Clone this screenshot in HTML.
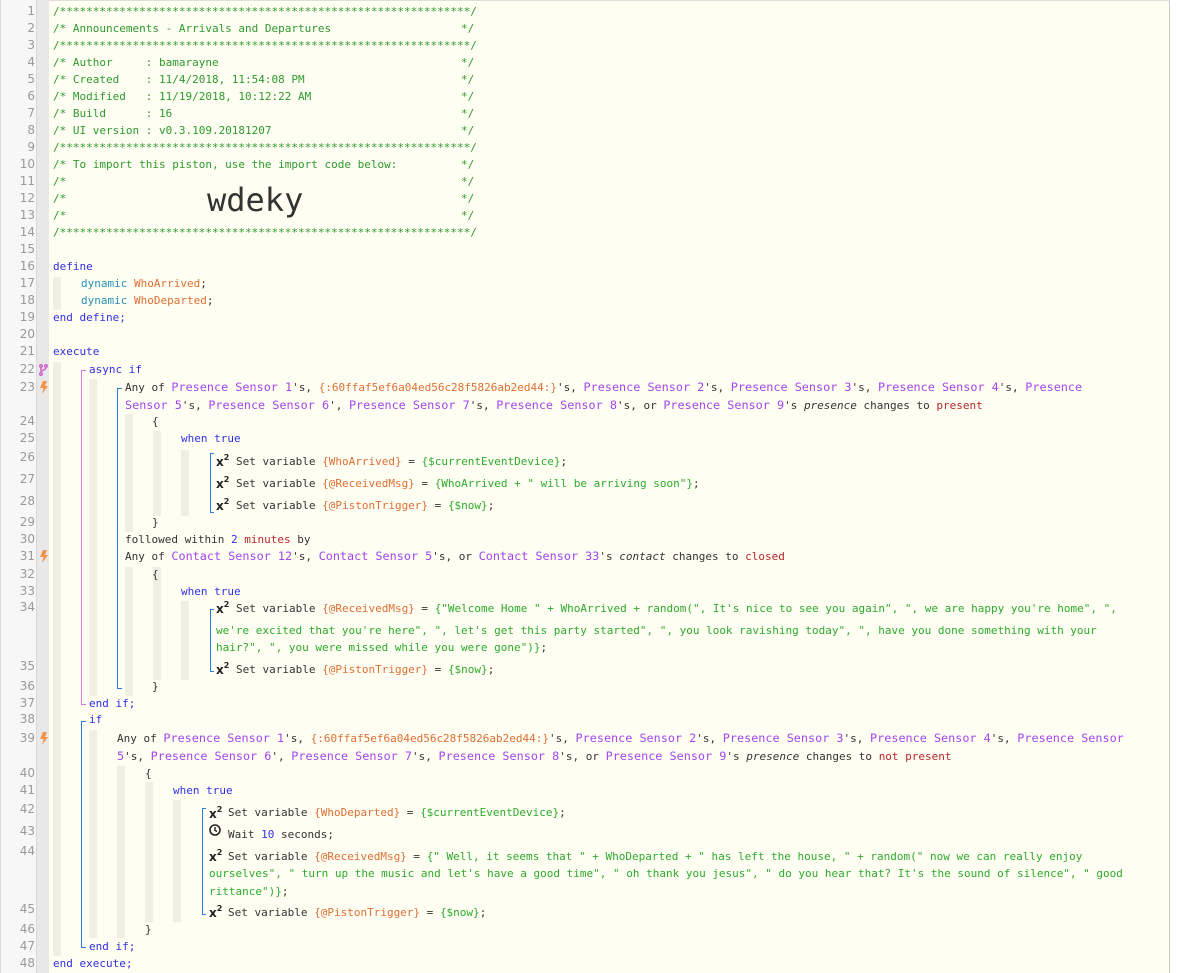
<!DOCTYPE html>
<html><head><meta charset="utf-8">
<style>
*{margin:0;padding:0;box-sizing:border-box}
body{width:1178px;height:973px;background:#fff;position:relative;overflow:hidden;font-family:"DejaVu Sans Mono","Liberation Mono",monospace;font-size:11px;color:#333}
#g1{position:absolute;left:0;top:0;width:36px;height:973px;background:#f7f7f7;border-left:1px solid #ddd}
#g2{position:absolute;left:36px;top:0;width:13px;height:973px;background:#e8e8e8;border-left:1px solid #d8d8d8}
#code{position:absolute;left:49px;top:0;width:1121px;height:973px;background:#fffef2;border-right:1px solid #c8c8c8;border-top:1px solid #ddd}
.l{position:absolute;white-space:pre;line-height:17px;height:17px}
.n{position:absolute;left:0;width:35px;text-align:right;color:#999;font-size:12px;line-height:17px;font-family:"DejaVu Sans","Liberation Sans",sans-serif}
.c{color:#2e9a2e}.k{color:#2f2fe8}.t{color:#2a90b8}.d{color:#a346f0;font-size:11.8px}.v{color:#dd6f35}.s{color:#2eaa2e}.r{color:#b8262b}.nb{color:#2f2fe8}
.bar{position:absolute;width:8px;background:#f1efe4}
.vl{position:absolute;width:1px}
.hl{position:absolute;height:1px}
.x2{position:absolute;font-family:"DejaVu Sans","Liberation Sans",sans-serif;font-weight:bold;font-size:12px;color:#222;line-height:12px}
.x2 sup{font-size:8px;position:relative;top:-1px}
</style></head><body>
<div id="g1"></div><div id="g2"></div><div id="code"></div>

<div class="bar" style="left:53px;top:277px;height:33px"></div>
<div class="bar" style="left:53px;top:362px;height:594px"></div>
<div class="bar" style="left:89px;top:379px;height:317px"></div>
<div class="bar" style="left:125px;top:414px;height:118px"></div>
<div class="bar" style="left:153px;top:431px;height:85px"></div>
<div class="bar" style="left:181px;top:450px;height:66px"></div>
<div class="bar" style="left:125px;top:567px;height:129px"></div>
<div class="bar" style="left:153px;top:567px;height:113px"></div>
<div class="bar" style="left:181px;top:601px;height:79px"></div>
<div class="bar" style="left:89px;top:730px;height:208px"></div>
<div class="bar" style="left:117px;top:766px;height:172px"></div>
<div class="bar" style="left:145px;top:782px;height:140px"></div>
<div class="bar" style="left:173px;top:800px;height:122px"></div>

<div class="vl" style="left:81px;top:370px;height:335px;background:#d77ad7"></div>
<div class="hl" style="left:81px;top:370px;width:5px;background:#d77ad7"></div>
<div class="hl" style="left:81px;top:704px;width:5px;background:#d77ad7"></div>
<div class="vl" style="left:117px;top:388px;height:301px;background:#2a7ad8"></div>
<div class="hl" style="left:117px;top:388px;width:5px;background:#2a7ad8"></div>
<div class="hl" style="left:117px;top:688px;width:5px;background:#2a7ad8"></div>
<div class="vl" style="left:210px;top:453px;height:60px;background:#2a7ad8"></div>
<div class="hl" style="left:210px;top:453px;width:4px;background:#2a7ad8"></div>
<div class="hl" style="left:210px;top:512px;width:4px;background:#2a7ad8"></div>
<div class="vl" style="left:210px;top:609px;height:63px;background:#2a7ad8"></div>
<div class="hl" style="left:210px;top:609px;width:4px;background:#2a7ad8"></div>
<div class="hl" style="left:210px;top:671px;width:4px;background:#2a7ad8"></div>
<div class="vl" style="left:81px;top:721px;height:227px;background:#2a7ad8"></div>
<div class="hl" style="left:81px;top:721px;width:5px;background:#2a7ad8"></div>
<div class="hl" style="left:81px;top:947px;width:5px;background:#2a7ad8"></div>
<div class="vl" style="left:202px;top:808px;height:107px;background:#2a7ad8"></div>
<div class="hl" style="left:202px;top:808px;width:4px;background:#2a7ad8"></div>
<div class="hl" style="left:202px;top:914px;width:4px;background:#2a7ad8"></div>

<svg style="position:absolute;left:39px;top:364px" width="9" height="12" viewBox="0 0 9 12"><g fill="none" stroke="#d06ad0" stroke-width="1.6"><circle cx="2" cy="2" r="1.3"/><circle cx="7" cy="2" r="1.3"/><circle cx="2" cy="10" r="1.3"/><path d="M2 3.5V8.5M7 3.5C7 6 2 6 2 8.5"/></g></svg>
<svg style="position:absolute;left:40px;top:381px" width="8" height="13" viewBox="0 0 8 13"><path d="M3 0H7L5 5H8L2 13L3.5 7H0Z" fill="#f5934a"/></svg>
<svg style="position:absolute;left:40px;top:550px" width="8" height="13" viewBox="0 0 8 13"><path d="M3 0H7L5 5H8L2 13L3.5 7H0Z" fill="#f5934a"/></svg>
<svg style="position:absolute;left:40px;top:732px" width="8" height="13" viewBox="0 0 8 13"><path d="M3 0H7L5 5H8L2 13L3.5 7H0Z" fill="#f5934a"/></svg>

<div class="n" style="top:3px">1</div><div class="n" style="top:20px">2</div><div class="n" style="top:37px">3</div><div class="n" style="top:54px">4</div><div class="n" style="top:71px">5</div><div class="n" style="top:88px">6</div><div class="n" style="top:105px">7</div><div class="n" style="top:122px">8</div><div class="n" style="top:139px">9</div><div class="n" style="top:156px">10</div><div class="n" style="top:173px">11</div><div class="n" style="top:190px">12</div><div class="n" style="top:207px">13</div><div class="n" style="top:224px">14</div><div class="n" style="top:241px">15</div><div class="n" style="top:258px">16</div><div class="n" style="top:275px">17</div><div class="n" style="top:292px">18</div><div class="n" style="top:309px">19</div><div class="n" style="top:326px">20</div><div class="n" style="top:343px">21</div><div class="n" style="top:361px">22</div><div class="n" style="top:379px">23</div><div class="n" style="top:413px">24</div><div class="n" style="top:430px">25</div><div class="n" style="top:449px">26</div><div class="n" style="top:471px">27</div><div class="n" style="top:493px">28</div><div class="n" style="top:514px">29</div><div class="n" style="top:531px">30</div><div class="n" style="top:548px">31</div><div class="n" style="top:566px">32</div><div class="n" style="top:583px">33</div><div class="n" style="top:599px">34</div><div class="n" style="top:658px">35</div><div class="n" style="top:678px">36</div><div class="n" style="top:695px">37</div><div class="n" style="top:711px">38</div><div class="n" style="top:730px">39</div><div class="n" style="top:765px">40</div><div class="n" style="top:782px">41</div><div class="n" style="top:801px">42</div><div class="n" style="top:823px">43</div><div class="n" style="top:843px">44</div><div class="n" style="top:901px">45</div><div class="n" style="top:921px">46</div><div class="n" style="top:938px">47</div><div class="n" style="top:955px">48</div>

<div class="l c" style="top:3px;left:53px">/**************************************************************/</div>
<div class="l c" style="top:20px;left:53px">/* Announcements - Arrivals and Departures</div>
<div class="l c" style="top:37px;left:53px">/**************************************************************/</div>
<div class="l c" style="top:54px;left:53px">/* Author     : bamarayne</div>
<div class="l c" style="top:71px;left:53px">/* Created    : 11/4/2018, 11:54:08 PM</div>
<div class="l c" style="top:88px;left:53px">/* Modified   : 11/19/2018, 10:12:22 AM</div>
<div class="l c" style="top:105px;left:53px">/* Build      : 16</div>
<div class="l c" style="top:122px;left:53px">/* UI version : v0.3.109.20181207</div>
<div class="l c" style="top:139px;left:53px">/**************************************************************/</div>
<div class="l c" style="top:156px;left:53px">/* To import this piston, use the import code below:</div>
<div class="l c" style="top:173px;left:53px">/*</div>
<div class="l c" style="top:190px;left:53px">/*</div>
<div class="l c" style="top:207px;left:53px">/*</div>
<div class="l c" style="top:224px;left:53px">/**************************************************************/</div>
<div class="l c" style="top:20px;left:461px">*/</div><div class="l c" style="top:54px;left:461px">*/</div><div class="l c" style="top:71px;left:461px">*/</div><div class="l c" style="top:88px;left:461px">*/</div><div class="l c" style="top:105px;left:461px">*/</div><div class="l c" style="top:122px;left:461px">*/</div><div class="l c" style="top:156px;left:461px">*/</div><div class="l c" style="top:173px;left:461px">*/</div><div class="l c" style="top:190px;left:461px">*/</div><div class="l c" style="top:207px;left:461px">*/</div>
<div style="position:absolute;left:207px;top:181px;font-family:'DejaVu Sans Mono',monospace;font-size:32px;line-height:38px;color:#333">wdeky</div>

<div class="l k" style="top:258px;left:53px">define</div>
<div class="l" style="top:275px;left:81px"><span class="t">dynamic</span> <span class="v">WhoArrived</span>;</div>
<div class="l" style="top:292px;left:81px"><span class="t">dynamic</span> <span class="v">WhoDeparted</span>;</div>
<div class="l k" style="top:309px;left:53px">end define;</div>

<div class="l k" style="top:343px;left:53px">execute</div>
<div class="l k" style="top:361px;left:89px">async if</div>
<div class="l" style="top:379px;left:125px">Any of <span class="d">Presence Sensor 1</span>'s, <span class="v">{:60ffaf5ef6a04ed56c28f5826ab2ed44:}</span>'s, <span class="d">Presence Sensor 2</span>'s, <span class="d">Presence Sensor 3</span>'s, <span class="d">Presence Sensor 4</span>'s, <span class="d">Presence</span></div>
<div class="l" style="top:397px;left:125px"><span class="d">Sensor 5</span>'s, <span class="d">Presence Sensor 6</span>', <span class="d">Presence Sensor 7</span>'s, <span class="d">Presence Sensor 8</span>'s, or <span class="d">Presence Sensor 9</span>'s <i>presence</i> changes to <span class="r">present</span></div>
<div class="l" style="top:413px;left:152px">{</div>
<div class="l k" style="top:430px;left:181px">when true</div>
<div class="x2" style="left:216px;top:453px">x<sup>2</sup></div>
<div class="l" style="top:453px;left:236px">Set variable <span class="v">{WhoArrived}</span> = <span class="s">{$currentEventDevice}</span>;</div>
<div class="x2" style="left:216px;top:475px">x<sup>2</sup></div>
<div class="l" style="top:475px;left:236px">Set variable <span class="v">{@ReceivedMsg}</span> = <span class="s">{WhoArrived + " will be arriving soon"}</span>;</div>
<div class="x2" style="left:216px;top:497px">x<sup>2</sup></div>
<div class="l" style="top:497px;left:236px">Set variable <span class="v">{@PistonTrigger}</span> = <span class="s">{$now}</span>;</div>
<div class="l" style="top:514px;left:152px">}</div>
<div class="l" style="top:531px;left:125px">followed within <span class="nb">2</span> <span class="r">minutes</span> by</div>
<div class="l" style="top:548px;left:125px">Any of <span class="d">Contact Sensor 12</span>'s, <span class="d">Contact Sensor 5</span>'s, or <span class="d">Contact Sensor 33</span>'s <i>contact</i> changes to <span class="r">closed</span></div>
<div class="l" style="top:566px;left:152px">{</div>
<div class="l k" style="top:583px;left:181px">when true</div>
<div class="x2" style="left:216px;top:600px">x<sup>2</sup></div>
<div class="l" style="top:600px;left:236px">Set variable <span class="v">{@ReceivedMsg}</span> = <span class="s">{"Welcome Home " + WhoArrived + random(", It's nice to see you again", ", we are happy you're home", ",</span></div>
<div class="l s" style="top:622px;left:216px">we're excited that you're here", ", let's get this party started", ", you look ravishing today", ", have you done something with your</div>
<div class="l s" style="top:639px;left:216px">hair?", ", you were missed while you were gone")}<span style="color:#333">;</span></div>
<div class="x2" style="left:216px;top:661px">x<sup>2</sup></div>
<div class="l" style="top:661px;left:236px">Set variable <span class="v">{@PistonTrigger}</span> = <span class="s">{$now}</span>;</div>
<div class="l" style="top:678px;left:152px">}</div>
<div class="l k" style="top:695px;left:89px">end if;</div>

<div class="l k" style="top:711px;left:89px">if</div>
<div class="l" style="top:730px;left:117px">Any of <span class="d">Presence Sensor 1</span>'s, <span class="v">{:60ffaf5ef6a04ed56c28f5826ab2ed44:}</span>'s, <span class="d">Presence Sensor 2</span>'s, <span class="d">Presence Sensor 3</span>'s, <span class="d">Presence Sensor 4</span>'s, <span class="d">Presence Sensor</span></div>
<div class="l" style="top:748px;left:117px"><span class="d">5</span>'s, <span class="d">Presence Sensor 6</span>', <span class="d">Presence Sensor 7</span>'s, <span class="d">Presence Sensor 8</span>'s, or <span class="d">Presence Sensor 9</span>'s <i>presence</i> changes to <span class="r">not present</span></div>
<div class="l" style="top:765px;left:145px">{</div>
<div class="l k" style="top:782px;left:173px">when true</div>
<div class="x2" style="left:209px;top:805px">x<sup>2</sup></div>
<div class="l" style="top:804px;left:228px">Set variable <span class="v">{WhoDeparted}</span> = <span class="s">{$currentEventDevice}</span>;</div>
<svg style="position:absolute;left:209px;top:824px" width="12" height="12" viewBox="0 0 12 12"><circle cx="6" cy="6" r="5" fill="none" stroke="#222" stroke-width="1.6"/><path d="M6 3V6.3L8 7.5" fill="none" stroke="#222" stroke-width="1.4"/></svg>
<div class="l" style="top:826px;left:228px">Wait <span class="nb">10</span> seconds;</div>
<div class="x2" style="left:209px;top:848px">x<sup>2</sup></div>
<div class="l" style="top:848px;left:228px">Set variable <span class="v">{@ReceivedMsg}</span> = <span class="s">{" Well, it seems that " + WhoDeparted + " has left the house, " + random(" now we can really enjoy</span></div>
<div class="l s" style="top:865px;left:209px">ourselves", " turn up the music and let's have a good time", " oh thank you jesus", " do you hear that? It's the sound of silence", " good</div>
<div class="l s" style="top:883px;left:209px">rittance")}<span style="color:#333">;</span></div>
<div class="x2" style="left:209px;top:904px">x<sup>2</sup></div>
<div class="l" style="top:904px;left:228px">Set variable <span class="v">{@PistonTrigger}</span> = <span class="s">{$now}</span>;</div>
<div class="l" style="top:921px;left:145px">}</div>
<div class="l k" style="top:938px;left:89px">end if;</div>
<div class="l k" style="top:955px;left:53px">end execute;</div>
</body></html>
